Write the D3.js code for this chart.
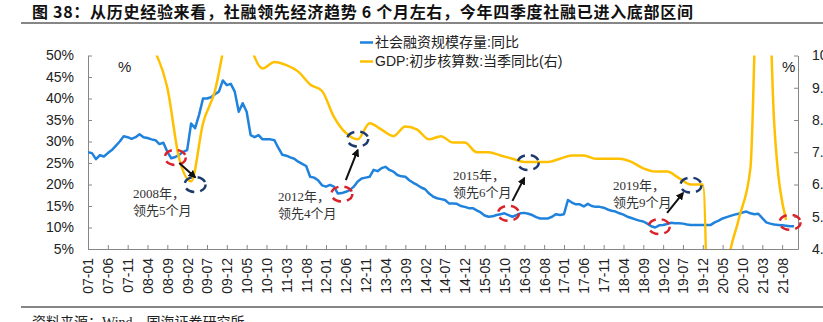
<!DOCTYPE html>
<html><head><meta charset="utf-8">
<script src="https://cdn.jsdelivr.net/npm/d3@7"></script>
<style>body{margin:0;background:#fff}svg{display:block}</style>
</head><body><svg id="c" width="823" height="322"></svg>
<script>
// ---------------- DATA ----------------
const titleText = "图 38：从历史经验来看，社融领先经济趋势 6 个月左右，今年四季度社融已进入底部区间";
const sourceText = "资料来源：Wind，国海证券研究所";
const seriesNames = ["社会融资规模存量:同比", "GDP:初步核算数:当季同比(右)"];
const startMonth = "2007-01";
// 社融存量同比 (%), monthly from 2007-01
const tsf2007 = [27.5,27.3,25.9,26.8,26.5,27.3,28.0,29.0,30.0,31.2,31.0,30.6];
const tsf2008 = [31.0,31.7,31.0,30.8,30.5,30.3,29.4,29.7,27.6,26.1,26.4,26.9];
const tsf2009 = [27.6,28.0,34.2,33.1,36.2,40.0,40.0,40.3,41.0,41.6,44.2,43.1];
const tsf2010 = [43.4,41.6,36.9,38.9,36.9,31.5,31.0,31.5,30.5,30.5,30.5,30.3];
const tsf2011 = [28.5,26.9,26.7,26.3,26.0,25.3,24.8,24.3,21.8,21.6,21.0,19.8];
const tsf2012 = [19.5,19.9,19.5,17.9,18.0,18.3,18.7,19.5,20.7,21.4,21.6,21.8];
const tsf2013 = [23.4,23.1,23.8,24.1,23.4,23.0,22.2,21.9,21.8,21.0,20.4,19.9];
const tsf2014 = [19.3,18.9,17.9,17.2,16.8,16.6,16.4,15.6,15.6,15.5,15.0,14.8];
const tsf2015 = [14.5,14.5,14.0,13.5,12.8,12.5,12.6,12.9,13.1,13.3,12.9,12.5];
const tsf2016 = [12.9,13.3,13.4,13.2,12.9,12.4,12.1,12.1,12.1,12.5,13.1,12.9];
const tsf2017 = [13.1,16.4,15.8,15.4,15.4,14.9,15.5,15.0,14.8,14.8,14.6,14.2];
const tsf2018 = [13.9,13.7,13.3,13.0,12.5,12.2,11.9,11.6,11.4,10.9,10.3,10.0];
const tsf2019 = [10.5,10.6,10.8,11.1,11.0,11.0,10.9,10.7,10.6,10.6,10.6,10.6];
const tsf2020 = [10.6,10.6,11.2,11.6,12.1,12.4,12.7,13.0,13.2,13.5,13.7,13.3];
const tsf2021 = [13.1,13.2,12.2,11.2,10.9,10.7,10.6,10.5,10.4,10.3,10.3];
// GDP 当季同比 (%), quarterly
const gdpDates = ["2007-03","2007-06","2007-09","2007-12","2008-03","2008-06","2008-09","2008-12",
  "2009-03","2009-06","2009-09","2009-12","2010-03","2010-06","2010-09","2010-12",
  "2011-03","2011-06","2011-09","2011-12","2012-03","2012-06","2012-09","2012-12",
  "2013-03","2013-06","2013-09","2013-12","2014-03","2014-06","2014-09","2014-12",
  "2015-03","2015-06","2015-09","2015-12","2016-03","2016-06","2016-09","2016-12",
  "2017-03","2017-06","2017-09","2017-12","2018-03","2018-06","2018-09","2018-12",
  "2019-03","2019-06","2019-09","2019-12","2020-03","2020-06","2020-09","2020-12",
  "2021-03","2021-06","2021-09"];
const gdpValues = [11.1,11.9,11.5,11.2,10.6,10.1,9.0,6.8,
  6.1,7.9,8.9,10.7,11.9,10.3,9.6,9.8,
  9.7,9.5,9.1,8.9,8.1,7.6,7.4,7.9,
  7.7,7.5,7.8,7.7,7.4,7.5,7.3,7.3,
  7.0,7.0,6.9,6.8,6.7,6.7,6.7,6.8,
  6.9,6.9,6.8,6.8,6.8,6.7,6.5,6.4,
  6.4,6.2,6.0,6.0,-6.8,3.2,4.9,6.5,
  18.3,7.9,4.9];
const xTickLabels = ["07-01","07-06","07-11","08-04","08-09","09-02","09-07","09-12","10-05","10-10",
  "11-03","11-08","12-01","12-06","12-11","13-04","13-09","14-02","14-07","14-12","15-05","15-10",
  "16-03","16-08","17-01","17-06","17-11","18-04","18-09","19-02","19-07","19-12","20-05","20-10",
  "21-03","21-08"];
const leftTicks = [5,10,15,20,25,30,35,40,45,50];
const rightTicks = [4,5,6,7,8,9,10];
// annotations: red = 社融 turning points (left axis), navy = GDP turning points (right axis)
const redMarks = [["2008-11",26.3],["2012-05",17.8],["2015-11",13.3],["2019-01",10.2],["2021-10",11.2]];
const navyMarks = [["2009-04",6.0],["2012-09",7.41],["2016-04",6.68],["2019-09",5.98]];
const arrows = [[["2008-12",25.0],["2009-04",21.7]],[["2012-06",21.0],["2012-09",28.0]],
  [["2015-12",16.2],["2016-03",21.5]],[["2019-03",13.4],["2019-07",18.0]]];
const noteLines = [["2008年，","领先5个月"],["2012年，","领先4个月"],["2015年，","领先6个月"],["2019年，","领先9个月"]];

// ---------------- DRAW ----------------
const tsf = [].concat(tsf2007,tsf2008,tsf2009,tsf2010,tsf2011,tsf2012,tsf2013,tsf2014,tsf2015,tsf2016,tsf2017,tsf2018,tsf2019,tsf2020,tsf2021);
const mIdx = s => { const [y,m] = s.split("-").map(Number); const [y0,m0] = startMonth.split("-").map(Number); return (y-y0)*12 + (m-m0); };
const tickIdx = s => { const [yy,mm] = s.split("-").map(Number); return mIdx(`${2000+yy}-${String(mm).padStart(2,"0")}`); };

const svg = d3.select("#c");
const L = 88, R = 798, T = 55.5, B = 249;
const x = d3.scaleLinear().domain([0,179]).range([L,R]);
const yL = d3.scaleLinear().domain([5,50]).range([B,T]);
const yR = d3.scaleLinear().domain([4,10]).range([B,T]);
const CJK = "'Noto Sans CJK SC', sans-serif";
const AR = "'Liberation Sans', Arial, 'Noto Sans CJK SC', sans-serif";
const SERIF = "'Liberation Serif', 'Noto Sans CJK SC', serif";
const BLUE = "#1f82dc", GOLD = "#ffc000", RED = "#d9222a", NAVY = "#1d3a6c", AX = "#868686";

// title
svg.append("text").attr("x",32).attr("y",18).attr("font-family",CJK).attr("font-weight","bold")
  .attr("font-size",16).attr("fill","#111").attr("textLength",661).attr("lengthAdjust","spacing").text(titleText);
svg.append("line").attr("x1",21).attr("x2",823).attr("y1",23).attr("y2",23).attr("stroke",AX).attr("stroke-width",2);
svg.append("line").attr("x1",21).attr("x2",823).attr("y1",307).attr("y2",307).attr("stroke",AX).attr("stroke-width",2);
svg.append("text").attr("x",32).attr("y",327).attr("font-family",SERIF).attr("font-size",14).attr("fill","#222").text(sourceText);

// clip
svg.append("defs").append("clipPath").attr("id","pa").append("rect").attr("x",L).attr("y",T).attr("width",R-L).attr("height",B-T);

// axes
const axL = svg.append("g").attr("transform",`translate(${L},0)`)
  .call(d3.axisLeft(yL).tickValues(leftTicks).tickFormat(d=>d+"%").tickSizeInner(-4).tickSizeOuter(0).tickPadding(14));
const axR = svg.append("g").attr("transform",`translate(${R},0)`)
  .call(d3.axisRight(yR).tickValues(rightTicks).tickSizeInner(-4).tickSizeOuter(0).tickPadding(14));
const axB = svg.append("g").attr("transform",`translate(0,${B})`)
  .call(d3.axisBottom(x).tickValues(xTickLabels.map(tickIdx)).tickFormat((d,i)=>xTickLabels[i]).tickSizeInner(-4).tickSizeOuter(0));
[axL,axR,axB].forEach(g=>{
  g.select(".domain").attr("stroke",AX);
  g.selectAll(".tick line").attr("stroke",AX);
  g.selectAll("text").attr("font-family",AR).attr("font-size",14).attr("fill","#222");
});
axB.selectAll("text").attr("transform","rotate(-90)").attr("text-anchor","end")
  .attr("x",-9).attr("y",0).attr("dy","0.35em");

// % unit labels
svg.append("text").attr("x",118).attr("y",72).attr("font-family",AR).attr("font-size",15).attr("fill","#222").text("%");
svg.append("text").attr("x",782).attr("y",72).attr("font-family",AR).attr("font-size",15).attr("fill","#222").text("%");

// lines
const plot = svg.append("g").attr("clip-path","url(#pa)");
plot.append("path").datum(tsf).attr("fill","none").attr("stroke",BLUE).attr("stroke-width",2.5)
  .attr("stroke-linejoin","round")
  .attr("d", d3.line().x((d,i)=>x(i)).y(d=>yL(d)));
const gdp = gdpDates.map((d,i)=>[mIdx(d), gdpValues[i]]);
plot.append("path").datum(gdp).attr("fill","none").attr("stroke",GOLD).attr("stroke-width",2.5)
  .attr("d", d3.line().x(d=>x(d[0])).y(d=>yR(d[1])).curve(d3.curveMonotoneX));

// legend
const lg = svg.append("g");
[[BLUE,42.5],[GOLD,61.5]].forEach(([c,yy],i)=>{
  lg.append("line").attr("x1",360).attr("x2",373).attr("y1",yy).attr("y2",yy).attr("stroke",c).attr("stroke-width",2.5);
  lg.append("text").attr("x",375).attr("y",yy).attr("dy","0.35em").attr("font-family",AR)
    .attr("font-size",14).attr("fill","#222").text(seriesNames[i]);
});

// dashed ellipses
const ell = (cx,cy,col)=> svg.append("ellipse").attr("cx",cx).attr("cy",cy).attr("rx",10.5).attr("ry",7.5)
  .attr("fill","none").attr("stroke",col).attr("stroke-width",2.5).attr("stroke-dasharray","9,6");
redMarks.forEach(([d,v])=>ell(x(mIdx(d)), yL(v), RED));
navyMarks.forEach(([d,v])=>ell(x(mIdx(d)), yR(v), NAVY));

// arrows
svg.append("defs").append("marker").attr("id","ah").attr("viewBox","0 0 10 10").attr("refX",8).attr("refY",5)
  .attr("markerWidth",4).attr("markerHeight",4).attr("orient","auto")
  .append("path").attr("d","M0,0L10,5L0,10z").attr("fill","#111");
arrows.forEach(([a,b])=>{
  svg.append("line").attr("x1",x(mIdx(a[0]))).attr("y1",yL(a[1])).attr("x2",x(mIdx(b[0]))).attr("y2",yL(b[1]))
    .attr("stroke","#111").attr("stroke-width",2).attr("marker-end","url(#ah)");
});

// notes
const notePos = [[133,198],[278,201],[453,180],[613,190]];
noteLines.forEach((ls,i)=>{
  const t = svg.append("text").attr("font-family",SERIF).attr("font-size",13).attr("fill","#333");
  ls.forEach((s,j)=> t.append("tspan").attr("x",notePos[i][0]).attr("y",notePos[i][1]+j*17).text(s));
});
</script></body></html>
